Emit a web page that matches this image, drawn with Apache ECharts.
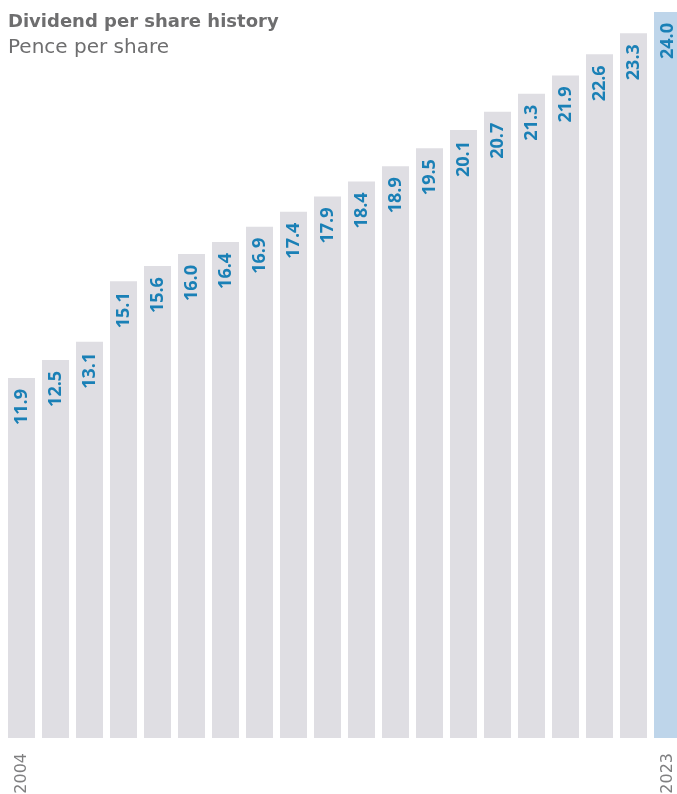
<!DOCTYPE html>
<html>
<head>
<meta charset="utf-8">
<script src="https://cdn.jsdelivr.net/npm/echarts@6/dist/echarts.min.js"></script>
<style>
html,body{margin:0;padding:0;background:#fff;}
#c{width:677px;height:794px;}
</style>
</head>
<body>
<div id="c"></div>
<script>
const years = ['2004','2005','2006','2007','2008','2009','2010','2011','2012','2013','2014','2015','2016','2017','2018','2019','2020','2021','2022','2023'];
const dividends = [11.9,12.5,13.1,15.1,15.6,16.0,16.4,16.9,17.4,17.9,18.4,18.9,19.5,20.1,20.7,21.3,21.9,22.6,23.3,24.0];
const shownYears = ['2004','2023'];
const titleText = 'Dividend per share history';
const subtitleText = 'Pence per share';

const chart = echarts.init(document.getElementById('c'), null, {renderer:'canvas'});
const last = years.length - 1;
chart.setOption({
  animation: false,
  title: {
    text: titleText,
    subtext: subtitleText,
    left: 3, top: 8,
    itemGap: 7,
    textStyle: {fontFamily: 'DejaVu Sans', fontWeight: 'bold', fontSize: 18, color: '#6e6e6f'},
    subtextStyle: {fontFamily: 'DejaVu Sans', fontSize: 20, color: '#6e6e6f'}
  },
  grid: {left: 4.5, width: 680, top: 12, height: 726, containLabel: false, outerBoundsMode: 'none'},
  xAxis: {
    type: 'category',
    data: years,
    axisLine: {show: false},
    axisTick: {show: false},
    axisLabel: {
      interval: 0,
      rotate: 90,
      margin: 15,
      fontFamily: 'DejaVu Sans',
      fontSize: 16,
      color: '#7f7f80',
      formatter: v => shownYears.includes(v) ? v : ''
    }
  },
  yAxis: {type: 'value', min: 0, max: 24, show: false, splitLine: {show: false}},
  series: [{
    type: 'bar',
    barWidth: 27,
    data: dividends.map((v, i) => ({
      value: v,
      itemStyle: {color: i === last ? '#bed5ea' : '#dfdee3'}
    })),
    label: {
      show: true,
      position: 'insideTop',
      distance: 11,
      rotate: 90,
      align: 'right',
      verticalAlign: 'middle',
      fontFamily: 'Open Sans',
      fontWeight: 'bold',
      fontSize: 18,
      color: '#1a80b6',
      formatter: p => p.value.toFixed(1)
    }
  }]
});
</script>
</body>
</html>
